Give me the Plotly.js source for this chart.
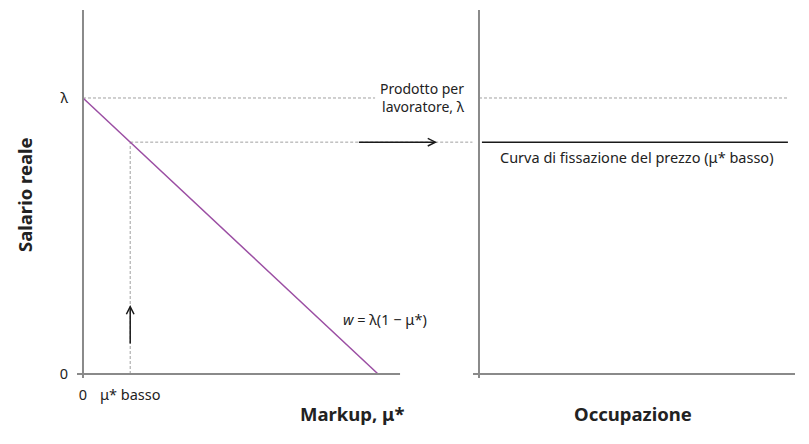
<!DOCTYPE html>
<html>
<head>
<meta charset="utf-8">
<script src="https://cdn.plot.ly/plotly-3.0.1.min.js"></script>
<style>html,body{margin:0;padding:0;background:#fff;}#chart{width:809px;height:444px;}</style>
</head>
<body>
<div id="chart"></div>
<script>
// Values (model units: productivity lambda = 1)
const lambda = 1;
const muLow = 0.16;
const wLow = lambda * (1 - muLow);
const muLine = [0, 1];
const wLine = [lambda * (1 - 0), lambda * (1 - 1)];
const yTickVals = [0, lambda];
const yTickText = ['0', 'λ'];
const xTickVals = [0, muLow];
const xTickText = ['0', 'μ* basso'];
const leftLambdaEnd = 0.99;
const wLowDashEnd = 1.32;
const rightLineEnd = 1.047;
const rightLineStart = 0.01;
const upArrow = [0.105, 0.25];
const sideArrow = [0.93, 1.2];

const W = 809, H = 444;
const FONT = 'Noto Sans, sans-serif';
const grey = '#8a8a8a';
const dashGrey = '#a0a0a0';
const txt = '#222222';
const DASH = '3px,2px';

const xAxisEnd = 1.0746;
const xRange = [-0.0203, 1.332];
const x2Range = [-0.0203, 1.071];
const yRange = [-0.0145, 1.3188];

const traces = [
  {x: [0, leftLambdaEnd], y: [lambda, lambda], xaxis: 'x', yaxis: 'y', mode: 'lines',
   line: {color: dashGrey, width: 1, dash: DASH}, hoverinfo: 'skip'},
  {x: [0, rightLineEnd], y: [lambda, lambda], xaxis: 'x2', yaxis: 'y', mode: 'lines',
   line: {color: dashGrey, width: 1, dash: DASH}, hoverinfo: 'skip'},
  {x: [muLow, wLowDashEnd], y: [wLow, wLow], xaxis: 'x', yaxis: 'y', mode: 'lines',
   line: {color: dashGrey, width: 1, dash: DASH}, hoverinfo: 'skip'},
  {x: [muLow, muLow], y: [0, wLow], xaxis: 'x', yaxis: 'y', mode: 'lines',
   line: {color: dashGrey, width: 1, dash: DASH}, hoverinfo: 'skip'},
  {x: muLine, y: wLine, xaxis: 'x', yaxis: 'y', mode: 'lines',
   line: {color: '#9b4ea3', width: 1.5}, hoverinfo: 'skip'},
  {x: [rightLineStart, rightLineEnd], y: [wLow, wLow], xaxis: 'x2', yaxis: 'y', mode: 'lines',
   line: {color: '#1a1a1a', width: 1.5}, hoverinfo: 'skip'}
];

const axisShapes = [
  {type: 'line', xref: 'x', yref: 'y', x0: 0, x1: 0, y0: yRange[0], y1: yRange[1], line: {color: grey, width: 2}},
  {type: 'line', xref: 'x', yref: 'y', x0: xRange[0], x1: xAxisEnd, y0: 0, y1: 0, line: {color: grey, width: 2}},
  {type: 'line', xref: 'x2', yref: 'y', x0: 0, x1: 0, y0: yRange[0] - 0.008, y1: yRange[1], line: {color: grey, width: 2}},
  {type: 'line', xref: 'x2', yref: 'y', x0: x2Range[0], x1: x2Range[1], y0: 0, y1: 0, line: {color: grey, width: 2}}
];

const annotations = [
  {xref: 'paper', yref: 'y', x: 467 / W, y: lambda, xanchor: 'right', yanchor: 'middle', align: 'right',
   text: 'Prodotto per<br>lavoratore, λ', showarrow: false, font: {family: FONT, size: 14, color: txt}},
  {xref: 'x2', yref: 'y', x: 0.535, y: wLow, xanchor: 'center', yanchor: 'top', yshift: -3,
   text: 'Curva di fissazione del prezzo (μ* basso)', showarrow: false, font: {family: FONT, size: 14.5, color: txt}},
  {xref: 'paper', yref: 'y', x: 385 / W, y: 0.2, xanchor: 'center', yanchor: 'middle',
   text: '<i>w</i> = λ(1 − μ*)', showarrow: false, font: {family: FONT, size: 14.5, color: txt}},
  {xref: 'x', yref: 'y', axref: 'x', ayref: 'y', x: sideArrow[1], y: wLow, ax: sideArrow[0], ay: wLow,
   showarrow: true, arrowhead: 5, arrowsize: 1, arrowwidth: 1.5, arrowcolor: '#1a1a1a', text: ''},
  {xref: 'x', yref: 'y', axref: 'x', ayref: 'y', x: muLow, y: upArrow[1], ax: muLow, ay: upArrow[0],
   showarrow: true, arrowhead: 5, arrowsize: 1, arrowwidth: 1.5, arrowcolor: '#1a1a1a', text: ''},
  // axis titles
  {xref: 'paper', yref: 'paper', x: 352 / W, y: (H - 413) / H, xanchor: 'center', yanchor: 'middle',
   text: '<b>Markup, μ*</b>', showarrow: false, font: {family: FONT, size: 18.5, color: txt}},
  {xref: 'paper', yref: 'paper', x: 633 / W, y: (H - 413) / H, xanchor: 'center', yanchor: 'middle',
   text: '<b>Occupazione</b>', showarrow: false, font: {family: FONT, size: 18.5, color: txt}},
  {xref: 'paper', yref: 'paper', x: 25 / W, y: (H - 195) / H, xanchor: 'center', yanchor: 'middle', textangle: -90,
   text: '<b>Salario reale</b>', showarrow: false, font: {family: FONT, size: 18.5, color: txt}}
];

const layout = {
  width: W, height: H,
  margin: {l: 0, r: 0, t: 0, b: 0},
  paper_bgcolor: '#ffffff', plot_bgcolor: '#ffffff',
  showlegend: false,
  font: {family: FONT, color: txt, size: 14},
  xaxis: {domain: [77 / W, 476 / W], range: xRange, showgrid: false, zeroline: false, showline: false,
          tickvals: xTickVals, ticktext: xTickText, ticks: '', ticklabelstandoff: 6,
          tickfont: {family: FONT, size: 14.5, color: txt}, anchor: 'y', fixedrange: true},
  xaxis2: {domain: [473 / W, 795 / W], range: x2Range, showgrid: false, zeroline: false, showline: false,
           showticklabels: false, ticks: '', anchor: 'y', fixedrange: true},
  yaxis: {domain: [(H - 378) / H, (H - 10) / H], range: yRange, showgrid: false, zeroline: false, showline: false,
          tickvals: yTickVals, ticktext: yTickText, ticks: '', ticklabelstandoff: 8,
          tickfont: {family: FONT, size: 14.5, color: txt}, anchor: 'x', fixedrange: true},
  shapes: axisShapes,
  annotations: annotations
};

Plotly.newPlot('chart', traces, layout, {displayModeBar: false, staticPlot: true});
</script>
</body>
</html>
